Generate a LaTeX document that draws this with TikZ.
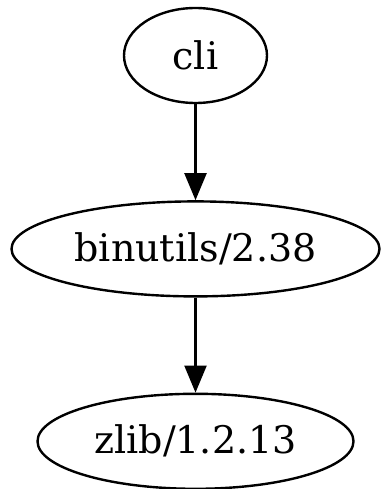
\documentclass[tikz,border=0pt]{standalone}
\usepackage{fontspec}
\setmainfont{DejaVu Serif}
\usepackage{tikz}
\usetikzlibrary{shapes.geometric,arrows.meta,positioning}
\tikzstyle{pkg} = [draw, ellipse, line width=2.4pt, inner sep=0pt,
    minimum height=95pt, font=\fontsize{38}{42}\selectfont]
\tikzstyle{connector} = [-{Triangle[length=27pt,width=22pt]}, line width=2.2pt]

\begin{document}
\begin{tikzpicture}[x=1pt,y=1pt]
		\useasboundingbox (0,0) rectangle (380,-489);
		
		\node[pkg, minimum width=143pt] (cli) at (195.5,-55.5) {cli};
		\node[pkg, minimum width=368pt, below=96pt of cli] (binutils) {binutils/2.38};
		\node[pkg, minimum width=316pt, below=95pt of binutils] (zlib) {zlib/1.2.13};
		
		\draw[connector] (cli) to (binutils);
		\draw[connector] (binutils) to (zlib);
	\end{tikzpicture}
\end{document}
